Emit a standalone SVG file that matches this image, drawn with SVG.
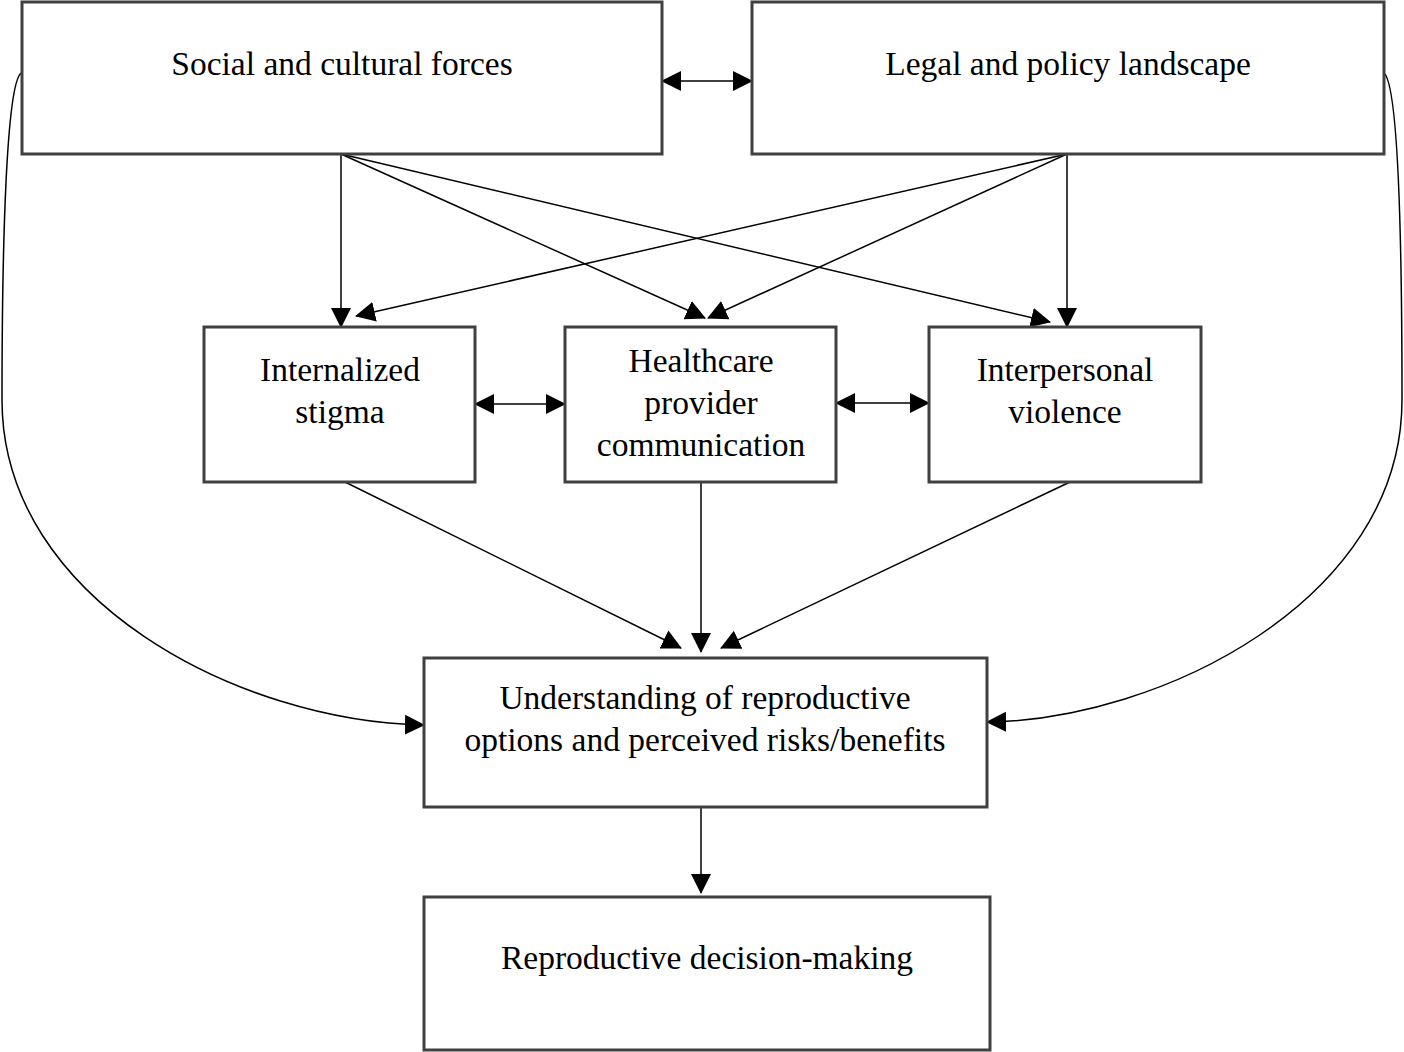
<svg xmlns="http://www.w3.org/2000/svg" width="1404" height="1052" viewBox="0 0 1404 1052">
<style>
.box{fill:#fff;stroke:#404040;stroke-width:3}
.t{font-family:"Liberation Serif","Times New Roman",serif;font-size:33.5px;fill:#000;text-anchor:middle}
.c{fill:none;stroke:#000;stroke-width:1.5}
</style>
<defs>
<marker id="a" markerUnits="userSpaceOnUse" markerWidth="20" markerHeight="22" refX="19" refY="10" orient="auto-start-reverse" viewBox="0 0 20 20">
<path d="M0,0 L20,10 L0,20 Z" fill="#000"/>
</marker>
</defs>
<rect width="1404" height="1052" fill="#fff"/>
<g id="connectors">
<path class="c" d="M21,73 C6,86 2,250 2,400 C2,600 240,722 424,725" marker-end="url(#a)"/>
<path class="c" d="M1384,73 C1399,86 1402,250 1402,400 C1402,600 1160,720 987,722" marker-end="url(#a)"/>
<line class="c" x1="662" y1="81" x2="752" y2="81" marker-start="url(#a)" marker-end="url(#a)"/>
<line class="c" x1="475" y1="404" x2="565" y2="404" marker-start="url(#a)" marker-end="url(#a)"/>
<line class="c" x1="836" y1="403" x2="929" y2="403" marker-start="url(#a)" marker-end="url(#a)"/>
<line class="c" x1="341" y1="154" x2="341" y2="327" marker-end="url(#a)"/>
<line class="c" x1="341" y1="154" x2="705" y2="318" marker-end="url(#a)"/>
<line class="c" x1="341" y1="154" x2="1050" y2="322" marker-end="url(#a)"/>
<line class="c" x1="1067" y1="154" x2="1067" y2="327" marker-end="url(#a)"/>
<line class="c" x1="1067" y1="154" x2="708" y2="318" marker-end="url(#a)"/>
<line class="c" x1="1067" y1="154" x2="356" y2="316" marker-end="url(#a)"/>
<line class="c" x1="345" y1="482" x2="681" y2="648" marker-end="url(#a)"/>
<line class="c" x1="701" y1="482" x2="701" y2="652" marker-end="url(#a)"/>
<line class="c" x1="1070" y1="482" x2="721" y2="648" marker-end="url(#a)"/>
<line class="c" x1="701" y1="807" x2="701" y2="893" marker-end="url(#a)"/>
</g>
<g id="social"><rect class="box" x="22" y="2" width="640" height="152"/><text class="t" x="342" y="75">Social and cultural forces</text></g>
<g id="legal"><rect class="box" x="752" y="2" width="632" height="152"/><text class="t" x="1068" y="75">Legal and policy landscape</text></g>
<g id="stigma"><rect class="box" x="204" y="327" width="271" height="155"/><text class="t" x="340" y="381">Internalized</text><text class="t" x="340" y="423">stigma</text></g>
<g id="provider"><rect class="box" x="565" y="327" width="271" height="155"/><text class="t" x="701" y="372">Healthcare</text><text class="t" x="701" y="414">provider</text><text class="t" x="701" y="456">communication</text></g>
<g id="violence"><rect class="box" x="929" y="327" width="272" height="155"/><text class="t" x="1065" y="381">Interpersonal</text><text class="t" x="1065" y="423">violence</text></g>
<g id="understanding"><rect class="box" x="424" y="658" width="563" height="149"/><text class="t" x="705" y="709">Understanding of reproductive</text><text class="t" x="705" y="751">options and perceived risks/benefits</text></g>
<g id="decision"><rect class="box" x="424" y="897" width="566" height="153"/><text class="t" x="707" y="969">Reproductive decision-making</text></g>
</svg>
